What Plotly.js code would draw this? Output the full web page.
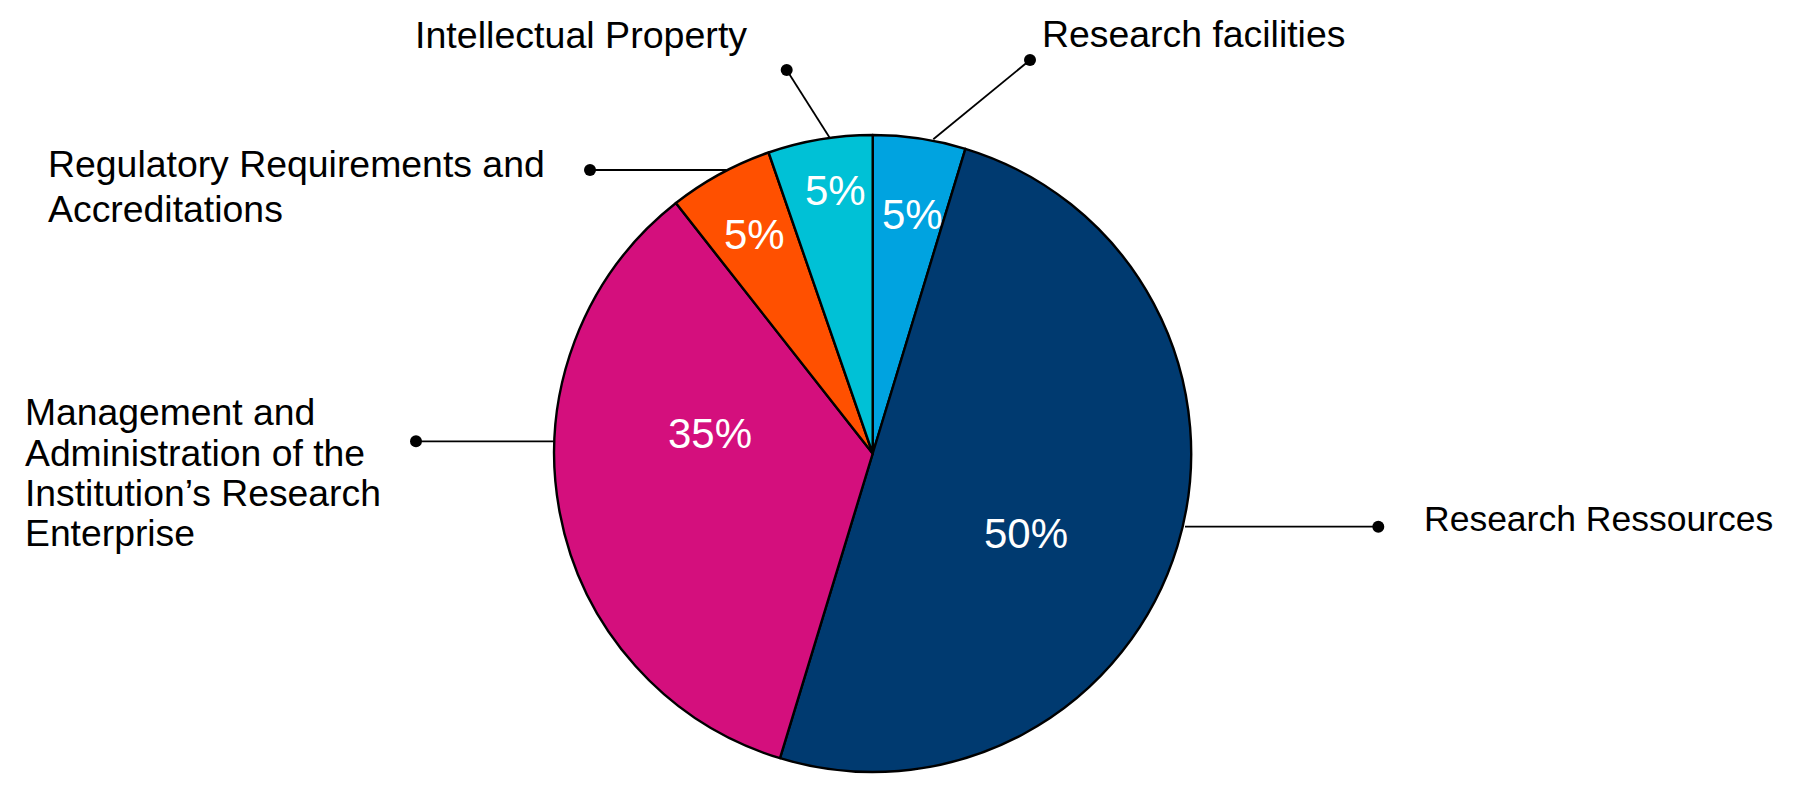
<!DOCTYPE html>
<html>
<head>
<meta charset="utf-8">
<script src="https://cdn.plot.ly/plotly-3.0.1.min.js"></script>
<style>html,body{margin:0;padding:0;background:#fff;}#chart{width:1807px;height:796px;}</style>
</head>
<body>
<div id="chart"></div>
<script>
// Data
const categories = [
  'Research facilities',
  'Research Ressources',
  'Management and Administration of the Institution\u2019s Research Enterprise',
  'Regulatory Requirements and Accreditations',
  'Intellectual Property'
];
const values = [4.7, 50, 34.7, 5.3, 5.3];
const sliceColors = ['#00A3E0', '#003A70', '#D40F7D', '#FF5000', '#00C1D6'];
// Label text lines, one list per category
const labelLines = [
  ['Research facilities'],
  ['Research Ressources'],
  ['Management and', 'Administration of the', 'Institution\u2019s Research', 'Enterprise'],
  ['Regulatory Requirements and', 'Accreditations'],
  ['Intellectual Property']
];

const W = 1807, H = 796;
const px = x => x / W;
const py = y => 1 - y / H;

// Layout geometry (pixels)
const cx = 872.7, cy = 453.5, R = 318.5;
const pctPos = [[912, 215], [1026, 533], [710, 433], [754, 234], [835, 191]];
const labelPos = [
  [1040, [34], 37.4],
  [1422, [519], 35.5],
  [23, [412, 452.5, 492.5, 532.5], 37.3],
  [46, [164, 209], 37.4],
  [413, [35], 37.6]
];
const leaders = [
  [[933.3, 139.3], [1030, 60]],
  [[1185, 526.7], [1378.3, 526.7]],
  [[554, 441.3], [416, 441.3]],
  [[726.7, 170], [590, 170]],
  [[830, 138.3], [786.7, 70]]
];

const total = values.reduce((a, b) => a + b, 0);
const FONT = '"Liberation Sans", Arial, Helvetica, sans-serif';

const trace = {
  type: 'pie',
  labels: categories,
  values: values,
  sort: false,
  direction: 'clockwise',
  rotation: 0,
  textinfo: 'none',
  hoverinfo: 'label+percent',
  marker: { colors: sliceColors, line: { color: '#000000', width: 2.4 } },
  domain: {
    x: [px(cx - R), px(cx + R)],
    y: [1 - (cy + R) / H, 1 - (cy - R) / H]
  },
  showlegend: false
};

const annotations = [];
values.forEach((v, i) => {
  annotations.push({
    xref: 'paper', yref: 'paper',
    x: px(pctPos[i][0]), y: py(pctPos[i][1]),
    xanchor: 'center', yanchor: 'middle',
    text: Math.round(v / total * 100) + '%',
    showarrow: false,
    font: { family: FONT, size: 42, color: '#FFFFFF' }
  });
  const lp = labelPos[i];
  labelLines[i].forEach((t, j) => {
    annotations.push({
      xref: 'paper', yref: 'paper',
      x: px(lp[0]), y: py(lp[1][j]),
      xanchor: 'left', yanchor: 'middle',
      text: t,
      showarrow: false,
      font: { family: FONT, size: lp[2], color: '#000000' }
    });
  });
});

const shapes = [];
leaders.forEach(l => {
  shapes.push({
    type: 'line', xref: 'paper', yref: 'paper',
    x0: px(l[0][0]), y0: py(l[0][1]), x1: px(l[1][0]), y1: py(l[1][1]),
    line: { color: '#000000', width: 1.8 }
  });
  const r = 6;
  shapes.push({
    type: 'circle', xref: 'paper', yref: 'paper',
    x0: px(l[1][0] - r), x1: px(l[1][0] + r),
    y0: py(l[1][1] + r), y1: py(l[1][1] - r),
    fillcolor: '#000000', line: { color: '#000000', width: 0 }
  });
});

const layout = {
  width: W, height: H,
  margin: { l: 0, r: 0, t: 0, b: 0 },
  paper_bgcolor: '#FFFFFF',
  plot_bgcolor: '#FFFFFF',
  font: { family: FONT },
  annotations: annotations,
  shapes: shapes,
  showlegend: false
};

Plotly.newPlot('chart', [trace], layout, { displayModeBar: false, staticPlot: true });
</script>
</body>
</html>
